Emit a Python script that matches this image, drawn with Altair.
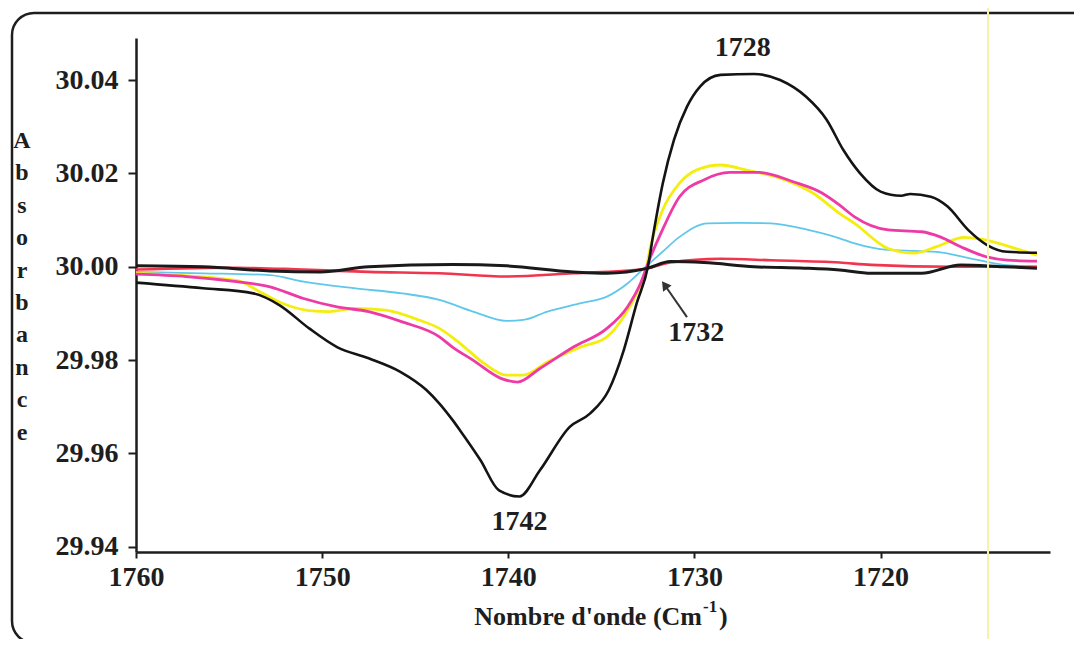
import altair as alt
import pandas as pd

# ---- data (wavenumber, absorbance) ----
black_wn = [1760.0, 1756.4, 1753.7, 1752.3, 1750.7, 1749.2, 1747.5, 1745.8, 1744.4, 1743.7, 1743.0, 1742.6,
            1741.5, 1740.5, 1739.4, 1738.3, 1736.7, 1735.6, 1734.6, 1733.8, 1733.1, 1732.5, 1732.2, 1731.7,
            1731.1, 1730.4, 1729.7, 1728.6, 1726.8, 1725.4, 1724.0, 1722.9, 1722.0, 1721.1, 1720.0, 1718.9,
            1718.4, 1717.3, 1716.4, 1715.3, 1714.3, 1713.2, 1711.6]
black_val = [29.9966, 29.9954, 29.9943, 29.9918, 29.9868, 29.9828, 29.9804, 29.9775, 29.9736, 29.9707, 29.9672, 29.9650,
             29.9586, 29.9521, 29.9508, 29.9564, 29.9657, 29.9686, 29.9736, 29.9821, 29.9922, 30.0000, 30.0072, 30.0179,
             30.0272, 30.0343, 30.0386, 30.0411, 30.0413, 30.0400, 30.0364, 30.0315, 30.0250, 30.0200, 30.0161, 30.0152,
             30.0156, 30.0150, 30.0129, 30.0079, 30.0047, 30.0032, 30.0030]

yellow_wn = [1760.0, 1754.6, 1753.2, 1751.9, 1750.7, 1749.6, 1748.3, 1746.6, 1744.8, 1743.7, 1742.6, 1741.3,
             1740.1, 1739.2, 1737.9, 1736.1, 1734.7, 1733.8, 1733.1, 1732.6, 1732.4, 1731.7, 1730.8, 1729.9,
             1728.6, 1727.2, 1725.4, 1723.6, 1722.2, 1721.4, 1719.6, 1718.2, 1717.0, 1715.5, 1714.6, 1712.5, 1711.6]
yellow_val = [29.9986, 29.9971, 29.9943, 29.9918, 29.9906, 29.9904, 29.9911, 29.9907, 29.9886, 29.9868, 29.9836, 29.9793,
              29.9768, 29.9768, 29.9796, 29.9828, 29.9850, 29.9893, 29.9943, 29.9993, 30.0036, 30.0122, 30.0179, 30.0207,
              30.0218, 30.0207, 30.0190, 30.0157, 30.0114, 30.0093, 30.0039, 30.0029, 30.0043, 30.0063, 30.0059, 30.0036, 30.0025]

magenta_wn = [1760.0, 1757.3, 1754.6, 1752.8, 1751.0, 1749.2, 1747.5, 1745.7, 1743.7, 1743.0, 1741.9, 1740.4,
              1739.5, 1738.3, 1736.5, 1734.7, 1733.6, 1732.9, 1732.5, 1731.8, 1730.8, 1729.5, 1728.1, 1726.5,
              1724.7, 1723.2, 1722.2, 1721.4, 1719.6, 1717.8, 1716.8, 1715.7, 1714.3, 1713.2, 1711.6]
magenta_val = [29.9984, 29.9979, 29.9968, 29.9957, 29.9932, 29.9914, 29.9904, 29.9882, 29.9850, 29.9828, 29.9800, 29.9761,
               29.9753, 29.9782, 29.9828, 29.9868, 29.9914, 29.9964, 30.0007, 30.0072, 30.0150, 30.0186, 30.0202, 30.0202,
               30.0182, 30.0159, 30.0132, 30.0107, 30.0079, 30.0075, 30.0064, 30.0043, 30.0021, 30.0014, 30.0012]

cyan_wn = [1760.0, 1756.4, 1752.8, 1751.0, 1748.3, 1745.7, 1743.7, 1741.9, 1740.1, 1739.2, 1737.9, 1736.1,
           1734.7, 1733.6, 1732.7, 1731.8, 1730.8, 1729.3, 1727.7, 1725.9, 1723.9, 1722.2, 1721.4, 1719.6,
           1717.0, 1715.2, 1713.4, 1711.6]
cyan_val = [29.9989, 29.9986, 29.9982, 29.9968, 29.9954, 29.9943, 29.9929, 29.9904, 29.9884, 29.9886, 29.9904, 29.9922,
            29.9936, 29.9964, 29.9997, 30.0029, 30.0064, 30.0093, 30.0094, 30.0093, 30.0079, 30.0061, 30.0050, 30.0036,
            30.0032, 30.0018, 30.0004, 30.0000]

red_wn = [1760.0, 1754.6, 1751.0, 1747.5, 1743.7, 1740.1, 1736.5, 1732.9, 1731.3, 1728.6, 1725.9, 1722.2,
          1720.5, 1716.1, 1711.6]
red_val = [29.9994, 29.9998, 29.9994, 29.9989, 29.9986, 29.9979, 29.9986, 29.9994, 30.0009, 30.0017, 30.0014, 30.0009,
           30.0004, 30.0000, 30.0000]

flat_wn = [1760.0, 1756.4, 1752.8, 1750.1, 1747.5, 1743.0, 1740.1, 1736.5, 1734.7, 1732.5, 1731.3, 1729.5,
           1726.8, 1724.1, 1722.2, 1720.5, 1717.8, 1715.7, 1713.4, 1711.6]
flat_val = [30.0002, 30.0000, 29.9991, 29.9989, 30.0000, 30.0005, 30.0002, 29.9989, 29.9986, 29.9997, 30.0011, 30.0009,
            30.0000, 29.9997, 29.9993, 29.9986, 29.9986, 30.0004, 30.0000, 29.9997]

x_ticks = [1760, 1750, 1740, 1730, 1720]
y_ticks = [29.94, 29.96, 29.98, 30.00, 30.02, 30.04]

ann_text = ["1728", "1742", "1732"]
ann_wn = [1727.4, 1739.4, 1729.9]
ann_val = [30.0469, 29.9453, 29.9858]

arrow_tail = (1730.4, 29.9892)
arrow_head = (1731.6, 29.9961)

FONT = "Liberation Serif"
INK = "#1e1e1e"

xscale = alt.Scale(domain=[1710.9, 1760], reverse=True, nice=False, zero=False)
yscale = alt.Scale(domain=[29.9389, 30.049], nice=False, zero=False)

xaxis = alt.Axis(values=x_ticks, format="d", title=None, grid=False, domainColor=INK, domainWidth=2.5,
                 tickColor=INK, tickWidth=2, tickSize=6, labelPadding=5, labelFont=FONT, labelFontSize=28,
                 labelFontWeight="bold", labelColor=INK, labelFlush=False)
yaxis = alt.Axis(values=y_ticks, format=".2f", title=None, grid=False, domainColor=INK, domainWidth=2.5,
                 tickColor=INK, tickWidth=2, tickSize=8, labelPadding=10, labelFont=FONT, labelFontSize=28,
                 labelFontWeight="bold", labelColor=INK, labelFlush=False)

X = lambda f: alt.X(f, scale=xscale, axis=xaxis)
Y = lambda f: alt.Y(f, scale=yscale, axis=yaxis)

series = [
    ("cyan", cyan_wn, cyan_val, "#5fc8ea", 1.8),
    ("red", red_wn, red_val, "#f0364f", 2.6),
    ("yellow", yellow_wn, yellow_val, "#f4ee10", 2.8),
    ("magenta", magenta_wn, magenta_val, "#ee3aa4", 2.8),
    ("flat", flat_wn, flat_val, "#1a1a1a", 3.0),
    ("black", black_wn, black_val, "#141414", 2.6),
]

layers = []

for name, wn, val, col, sw in series:
    df = pd.DataFrame({"wn": wn, "val": val})
    layers.append(alt.Chart(df).mark_line(color=col, strokeWidth=sw, interpolate="monotone").encode(
        x=X("wn:Q"), y=Y("val:Q")))

ann_df = pd.DataFrame({"t": ann_text, "wn": ann_wn, "val": ann_val})
layers.append(alt.Chart(ann_df).mark_text(font=FONT, fontSize=28, fontWeight="bold", color=INK,
                                          baseline="middle", align="center").encode(
    x=X("wn:Q"), y=Y("val:Q"), text="t:N"))

arr_df = pd.DataFrame({"wn": [arrow_tail[0]], "val": [arrow_tail[1]],
                       "wn2": [arrow_head[0]], "val2": [arrow_head[1]]})
layers.append(alt.Chart(arr_df).mark_rule(color="#333333", strokeWidth=2).encode(
    x=X("wn:Q"), y=Y("val:Q"), x2="wn2:Q", y2="val2:Q"))
head_df = pd.DataFrame({"wn": [arrow_head[0]], "val": [arrow_head[1]]})
layers.append(alt.Chart(head_df).mark_point(shape="triangle-up", filled=True, color="#333333", size=110,
                                            angle=324, opacity=1).encode(
    x=X("wn:Q"), y=Y("val:Q")))

tdf = pd.DataFrame({"a": [0]})

# frame of the scanned figure
layers.append(alt.Chart(tdf).mark_rect(
    fill="white", fillOpacity=0, stroke=INK, strokeWidth=2.5, cornerRadius=22
).encode(x=alt.value(-124), x2=alt.value(990), y=alt.value(-25), y2=alt.value(605)))

# faint yellow vertical scan artefact
layers.append(alt.Chart(tdf).mark_rule(color="#f6f3a6", strokeWidth=2).encode(
    x=alt.value(852), y=alt.value(-40), y2=alt.value(620)))

# x axis title with superscript
layers.append(alt.Chart(tdf).mark_text(text="Nombre d'onde (Cm", font=FONT, fontSize=26, fontWeight="bold",
                                       color=INK, align="right", baseline="alphabetic").encode(
    x=alt.value(566), y=alt.value(587)))
layers.append(alt.Chart(tdf).mark_text(text="-1", font=FONT, fontSize=17, fontWeight="bold",
                                       color=INK, align="left", baseline="alphabetic").encode(
    x=alt.value(567), y=alt.value(574)))
layers.append(alt.Chart(tdf).mark_text(text=")", font=FONT, fontSize=26, fontWeight="bold",
                                       color=INK, align="left", baseline="alphabetic").encode(
    x=alt.value(583), y=alt.value(587)))

# stacked y axis title
layers.append(alt.Chart(tdf).mark_text(font=FONT, fontSize=24, fontWeight="bold", color=INK,
                                       align="center", baseline="alphabetic", lineHeight=32.4).encode(
    x=alt.value(-114), y=alt.value(110),
    text=alt.value(["A", "b", "s", "o", "r", "b", "a", "n", "c", "e"])))

chart = alt.layer(*layers).properties(
    width=914, height=514,
    background="white",
    autosize=alt.AutoSizeParams(type="none"),
    padding={"left": 128, "top": 30, "right": 24, "bottom": 87},
).configure_view(stroke=None)

chart.save("out.html", embed_options={"renderer": "svg", "actions": False})
